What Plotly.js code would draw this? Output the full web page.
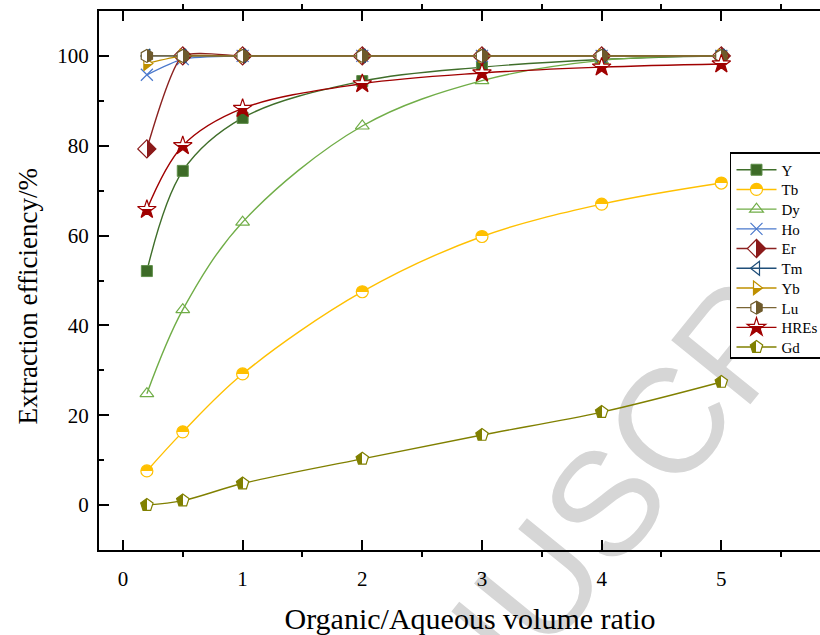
<!DOCTYPE html>
<html>
<head>
<meta charset="utf-8">
<script src="https://cdn.plot.ly/plotly-3.0.1.min.js"></script>
<style>
html,body{margin:0;padding:0;background:#fff;overflow:hidden;width:820px;height:635px;}
#chart{width:860px;height:635px;}
</style>
</head>
<body>
<div id="chart"></div>
<script>
// Organic/Aqueous volume ratio
var ratio = [0.2, 0.5, 1, 2, 3, 4, 5];
// Extraction efficiency (%) per element
var effY    = [52.1, 74.4, 86.2, 94.4, 97.5, 99.2, 100];
var effTb   = [7.6, 16.3, 29.2, 47.5, 59.8, 67.0, 71.7];
var effDy   = [24.8, 43.5, 63.0, 84.4, 94.5, 99.0, 100];
var effHo   = [95.8, 99.3, 100, 100, 100, 100, 100];
var effEr   = [79.3, 100, 100, 100, 100, 100, 100];
var effTm   = [100, 100, 100, 100, 100, 100, 100];
var effYb   = [98.3, 100, 100, 100, 100, 100, 100];
var effLu   = [100, 100, 100, 100, 100, 100, 100];
var effHREs = [65.8, 80.0, 88.3, 93.8, 96.2, 97.5, 98.2];
var effGd   = [0.0, 1.0, 4.8, 10.3, 15.6, 20.7, 27.4];

var seriesNames = ['Y','Tb','Dy','Ho','Er','Tm','Yb','Lu','HREs','Gd'];
var seriesData  = [effY, effTb, effDy, effHo, effEr, effTm, effYb, effLu, effHREs, effGd];

var xTitle = 'Organic/Aqueous volume ratio';
var yTitle = 'Extraction efficiency/%';

var styles = {
  'Y':    {line:'#3f6e2a', smooth:1,   marker:{symbol:'square', size:11, color:'#3d6b27', line:{color:'#5f8f4a', width:1}}},
  'Tb':   {line:'#ffc000', smooth:1,   marker:{symbol:'circle', size:12, color:'#ffc000', gradient:{type:'vertical', color:'#ffffff'}, line:{color:'#ffc000', width:1.2}}},
  'Dy':   {line:'#70ad47', smooth:1,   marker:{symbol:'triangle-up-open', size:12, color:'#70ad47', line:{color:'#70ad47', width:1.2}}},
  'Ho':   {line:'#4a78cc', smooth:0.6, marker:{symbol:'x-thin-open', size:12, color:'#4a78cc', line:{color:'#4a78cc', width:1.2}}},
  'Er':   {line:'#8b2220', smooth:0.55, marker:{symbol:'diamond', size:14, color:'#ffffff', gradient:{type:'horizontal', color:'#8b1a1a'}, line:{color:'#8b1a1a', width:1.2}}},
  'Tm':   {line:'#1f4e79', smooth:1,   marker:{symbol:'triangle-left-open', size:12, color:'#1f4e79', line:{color:'#1f4e79', width:1.2}}},
  'Yb':   {line:'#bf9000', smooth:0.6, marker:{symbol:'triangle-right', size:12, color:'#ffffff', gradient:{type:'vertical', color:'#bf9000'}, line:{color:'#bf9000', width:1.2}}},
  'Lu':   {line:'#7a6535', smooth:1,   marker:{symbol:'hexagon', size:13, color:'#ffffff', gradient:{type:'horizontal', color:'#6e5a2c'}, line:{color:'#6e5a2c', width:1.2}}},
  'HREs': {line:'#a00000', smooth:1,   marker:{symbol:'star', size:14, color:'#ffffff', gradient:{type:'vertical', color:'#a00000'}, line:{color:'#a00000', width:1.2}}},
  'Gd':   {line:'#808000', smooth:1,   marker:{symbol:'pentagon', size:13, color:'#808000', gradient:{type:'horizontal', color:'#ffffff'}, line:{color:'#808000', width:1.2}}}
};

var traces = seriesNames.map(function(name, i){
  var st = styles[name];
  return {
    x: ratio, y: seriesData[i], name: name,
    type: 'scatter', mode: 'lines+markers',
    line: {color: st.line, width: 1.4, shape: 'spline', smoothing: st.smooth},
    marker: st.marker,
    cliponaxis: false
  };
});

var serif = 'Liberation Serif, Times New Roman, serif';

var layout = {
  width: 860, height: 635,
  margin: {l: 99, r: 19, t: 11, b: 85},
  paper_bgcolor: '#ffffff', plot_bgcolor: 'rgba(0,0,0,0)',
  font: {family: serif, color: '#000'},
  showlegend: true,
  xaxis: {
    range: [-0.2, 6.0],
    tickvals: [0,1,2,3,4,5], ticktext: ['0','1','2','3','4','5'],
    ticks: 'inside', ticklen: 10, tickwidth: 2, tickcolor: '#000',
    minor: {tickvals: [0.5,1.5,2.5,3.5,4.5,5.5], ticks: 'outside', ticklen: 5, tickwidth: 2, tickcolor: '#000', showgrid: false},
    showline: true, linewidth: 2, linecolor: '#000', mirror: 'ticks',
    showgrid: false, zeroline: false,
    tickfont: {family: serif, size: 21, color: '#000'},
    ticklabelstandoff: 9,
    title: {text: xTitle, font: {family: serif, size: 30, color: '#000'}, standoff: 19},
    automargin: false
  },
  yaxis: {
    range: [-10, 110], tick0: 0, dtick: 20,
    ticks: 'inside', ticklen: 10, tickwidth: 2, tickcolor: '#000',
    minor: {dtick: 10, tick0: 0, ticks: 'inside', ticklen: 5, tickwidth: 2, tickcolor: '#000', showgrid: false},
    showline: true, linewidth: 2, linecolor: '#000', mirror: 'ticks',
    showgrid: false, zeroline: false,
    tickfont: {family: serif, size: 21, color: '#000'},
    ticklabelstandoff: 4,
    automargin: false
  },
  legend: {
    x: 0.8504, y: 0.7384, xanchor: 'left', yanchor: 'top',
    bgcolor: '#ffffff', bordercolor: '#000', borderwidth: 1.5,
    font: {family: serif, size: 15, color: '#000'},
    tracegroupgap: 0, itemwidth: 40
  },
  annotations: [{
    xref: 'paper', yref: 'paper', x: -0.0957, y: 0.472,
    xanchor: 'center', yanchor: 'middle', showarrow: false,
    text: yTitle, textangle: -90,
    font: {family: serif, size: 27, color: '#000'}
  }],
  shapes: [{
    type: 'rect', xref: 'paper', yref: 'paper', layer: 'below',
    x0: 0.66, x1: 0.68, y0: 0.10, y1: 0.12,
    line: {width: 0}, fillcolor: 'rgba(0,0,0,0)',
    label: {
      text: 'MANUSCRIPT', textangle: -51, textposition: 'middle center',
      xanchor: 'center', yanchor: 'middle',
      font: {family: 'Liberation Sans, Arial, sans-serif', size: 148, color: '#d6d6d6'}
    }
  }]
};

Plotly.newPlot('chart', traces, layout, {displayModeBar: false, staticPlot: true}).then(function(gd){
  // two-tone markers: split sharply in the middle with a known orientation
  gd.querySelectorAll('linearGradient').forEach(function(g){
    var horiz = (g.getAttribute('x1') !== g.getAttribute('x2'));
    if(horiz){ g.setAttribute('x1','1'); g.setAttribute('x2','0'); g.setAttribute('y1','0'); g.setAttribute('y2','0'); }
    else { g.setAttribute('x1','0'); g.setAttribute('x2','0'); g.setAttribute('y1','1'); g.setAttribute('y2','0'); }
    g.querySelectorAll('stop').forEach(function(s){ s.setAttribute('offset', '50%'); });
  });
  // tighter legend rows, like the original
  var items = gd.querySelectorAll('.legend .traces');
  if(items.length > 1){
    var ys = [], xs = [];
    items.forEach(function(el){
      var m = /translate\(\s*([-\d.]+)[ ,]+([-\d.]+)\s*\)/.exec(el.getAttribute('transform') || '');
      xs.push(m ? parseFloat(m[1]) : 0); ys.push(m ? parseFloat(m[2]) : 0);
    });
    var oldStep = (ys[ys.length-1] - ys[0]) / (ys.length - 1);
    var step = 19.7;
    items.forEach(function(el, i){
      el.setAttribute('transform', 'translate(' + xs[i] + ',' + (ys[0] + i * step) + ')');
    });
    var bg = gd.querySelector('.legend rect.bg');
    if(bg){
      var h = parseFloat(bg.getAttribute('height'));
      bg.setAttribute('height', h - (items.length - 1) * (oldStep - step) - 6);
    }
  }
});
</script>
</body>
</html>
